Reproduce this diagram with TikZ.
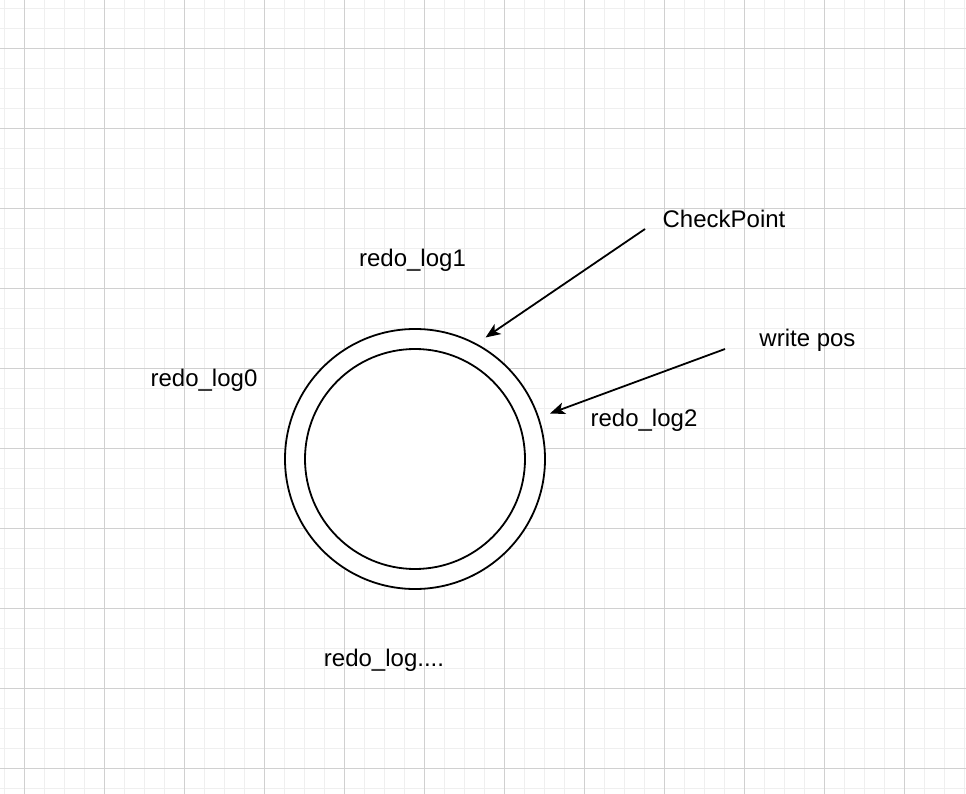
\documentclass[tikz,border=0pt]{standalone}
\usepackage{fontspec}
\setmainfont{Liberation Sans}
\usetikzlibrary{arrows.meta}
\definecolor{minorgrid}{HTML}{EFEFEF}
\definecolor{majorgrid}{HTML}{D0D0D0}
\tikzset{
  lbl/.style={anchor=base, inner sep=0pt, font=\fontsize{24}{28}\selectfont},
  ring/.style={draw=black, line width=1.8pt, fill=white},
  ptr/.style={draw=black, line width=1.8pt, -{Stealth[length=15pt, width=12pt, inset=4pt]}}
}
\begin{document}
\begin{tikzpicture}[x=1pt, y=-1pt]
\useasboundingbox (0,0) rectangle (966,794);
\fill[white] (0,0) rectangle (966,794);
% minor grid
\foreach \x in {4.5,24.5,...,964.5} \draw[minorgrid, line width=1pt] (\x,0) -- (\x,794);
\foreach \y in {8.5,28.5,...,788.5} \draw[minorgrid, line width=1pt] (0,\y) -- (966,\y);
% major grid
\foreach \x in {24.5,104.5,...,944.5} \draw[majorgrid, line width=1pt] (\x,0) -- (\x,794);
\foreach \y in {48.5,128.5,...,768.5} \draw[majorgrid, line width=1pt] (0,\y) -- (966,\y);

% rings
\node[ring, circle, minimum size=260pt, inner sep=0pt] (outer) at (415,459) {};
\node[ring, circle, minimum size=220pt, inner sep=0pt] (inner) at (415,459) {};

% labels
\node[lbl] (cp) at (724,227.3) {CheckPoint};
\node[lbl] (wp) at (807.5,346.7) {write pos};
\node[lbl] (r0) at (204,386.7) {redo\_log0};
\node[lbl] (r1) at (412.5,266.7) {redo\_log1};
\node[lbl] (r2) at (644,426.7) {redo\_log2};
\node[lbl] (rn) at (384,666.7) {redo\_log....};

% arrow endpoints
\coordinate (cpstart) at (645,229);
\coordinate (cpend) at (485.5,337.5);
\coordinate (wpstart) at (725,349);
\coordinate (wpend) at (550,413.5);

\draw[ptr] (cpstart) -- (cpend);
\draw[ptr] (wpstart) -- (wpend);
\end{tikzpicture}
\end{document}
